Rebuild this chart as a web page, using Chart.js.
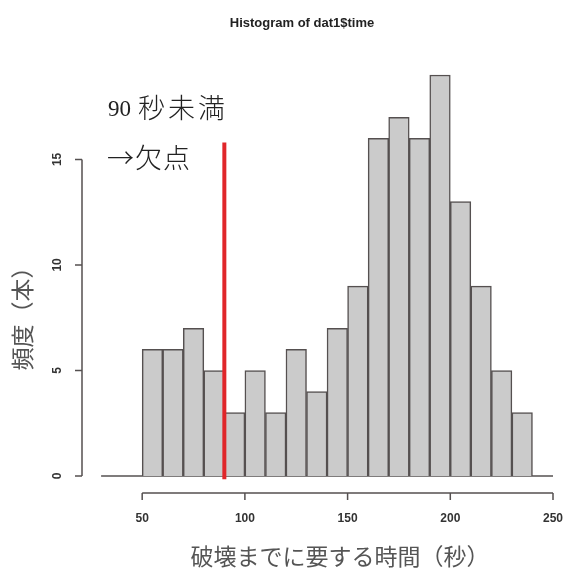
<!DOCTYPE html>
<html>
<head>
<meta charset="utf-8">
<script src="https://cdn.jsdelivr.net/npm/chart.js@4/dist/chart.umd.min.js"></script>
<style>
  html, body { margin: 0; padding: 0; background: #fff; }
  #wrap { width: 565px; height: 568px; position: relative; }
</style>
</head>
<body>
<div id="wrap"><canvas id="c" width="565" height="568"></canvas></div>
<script>
// Histogram bins (left edge, width 10 s) and their counts
const binStarts = [50, 60, 70, 80, 90, 100, 110, 120, 130, 140, 150, 160, 170, 180, 190, 200, 210, 220, 230];
const counts    = [6, 6, 7, 5, 3, 5, 3, 6, 4, 7, 9, 16, 17, 16, 19, 13, 9, 5, 3];
const binWidth = 10;

// Axis ticks
const xTicks = [50, 100, 150, 200, 250];
const yTicks = [0, 5, 10, 15];

// Cut-off marker (90 s) and the baseline span
const cutoffX = 90;
const cutoffTop = 15.8;
const baselineFrom = 30;
const baselineTo = 250;

const titleText = 'Histogram of dat1$time';
const xTitle = '破壊までに要する時間（秒）';
const yTitle = '頻度（本）';
const noteNumber = '90';
const noteUnit = '秒未満';
const noteResult = '→欠点';

const ink = '#555050';

const barData = binStarts.map((s, i) => ({ x: s + binWidth / 2, y: counts[i] }));

// R-style detached axes, title and annotation
const decorations = {
  id: 'decorations',
  afterDraw(chart) {
    const { ctx, scales: { x, y } } = chart;
    ctx.save();
    ctx.strokeStyle = ink;
    ctx.lineWidth = 1.5;
    ctx.fillStyle = '#333';

    // x axis
    const xAxisY = 493;
    ctx.beginPath();
    ctx.moveTo(x.getPixelForValue(xTicks[0]), xAxisY);
    ctx.lineTo(x.getPixelForValue(xTicks[xTicks.length - 1]), xAxisY);
    xTicks.forEach(t => {
      const px = x.getPixelForValue(t);
      ctx.moveTo(px, xAxisY);
      ctx.lineTo(px, xAxisY + 7);
    });
    ctx.stroke();
    ctx.font = 'bold 12px "Liberation Sans", Arial, sans-serif';
    ctx.textAlign = 'center';
    ctx.textBaseline = 'middle';
    xTicks.forEach(t => ctx.fillText(String(t), x.getPixelForValue(t), 519));

    // y axis
    const yAxisX = 82;
    ctx.beginPath();
    ctx.moveTo(yAxisX, y.getPixelForValue(yTicks[0]));
    ctx.lineTo(yAxisX, y.getPixelForValue(yTicks[yTicks.length - 1]));
    yTicks.forEach(t => {
      const py = y.getPixelForValue(t);
      ctx.moveTo(yAxisX, py);
      ctx.lineTo(yAxisX - 7, py);
    });
    ctx.stroke();
    yTicks.forEach(t => {
      ctx.save();
      ctx.translate(58, y.getPixelForValue(t));
      ctx.rotate(-Math.PI / 2);
      ctx.fillText(String(t), 0, 0);
      ctx.restore();
    });

    // title
    ctx.fillStyle = '#222';
    ctx.font = 'bold 13px "Liberation Sans", Arial, sans-serif';
    ctx.fillText(titleText, 302, 23);

    // axis titles
    ctx.fillStyle = '#555';
    ctx.font = '23px "Noto Sans CJK JP", sans-serif';
    ctx.fillText(xTitle, 340, 556);
    ctx.save();
    ctx.translate(22, 313);
    ctx.rotate(-Math.PI / 2);
    ctx.fillText(yTitle, 0, 0);
    ctx.restore();

    // annotation
    ctx.fillStyle = '#222';
    ctx.textAlign = 'left';
    ctx.textBaseline = 'alphabetic';
    ctx.font = '23px "Liberation Serif", serif';
    ctx.fillText(noteNumber, 108, 116);
    ctx.font = '300 27px "Noto Sans CJK JP", sans-serif';
    ctx.letterSpacing = '3px';
    ctx.fillText(noteUnit, 138, 118);
    ctx.letterSpacing = '1px';
    ctx.fillText(noteResult, 107, 168);
    ctx.restore();
  }
};

new Chart(document.getElementById('c'), {
  data: {
    datasets: [
      {
        type: 'line',
        data: [{ x: baselineFrom, y: 0 }, { x: baselineTo, y: 0 }],
        borderColor: ink,
        borderWidth: 1.5,
        pointRadius: 0,
        order: 3
      },
      {
        type: 'bar',
        data: barData,
        backgroundColor: '#cbcbcb',
        borderColor: ink,
        borderWidth: 1.5,
        barPercentage: 1,
        categoryPercentage: 1,
        order: 2
      },
      {
        type: 'line',
        data: [{ x: cutoffX, y: -0.15 }, { x: cutoffX, y: cutoffTop }],
        borderColor: '#e0262a',
        borderWidth: 4,
        pointRadius: 0,
        order: 1
      }
    ]
  },
  options: {
    responsive: false,
    animation: false,
    events: [],
    layout: { padding: { left: 82, right: 12, top: 59, bottom: 76 } },
    plugins: { legend: { display: false }, tooltip: { enabled: false }, title: { display: false } },
    scales: {
      x: { type: 'linear', min: 20.7, max: 250, display: false, offset: false },
      y: { type: 'linear', min: -0.76, max: 19.76, display: false }
    }
  },
  plugins: [decorations]
});
</script>
</body>
</html>
